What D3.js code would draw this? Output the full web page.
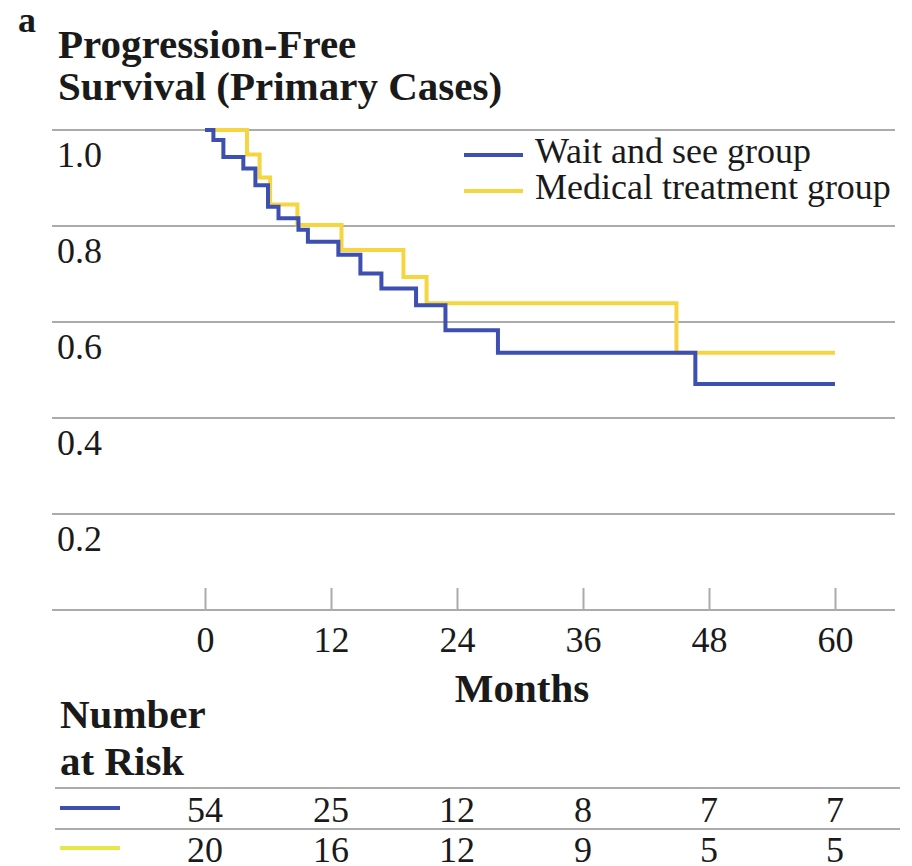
<!DOCTYPE html>
<html>
<head>
<meta charset="utf-8">
<script src="https://cdn.jsdelivr.net/npm/d3@7"></script>
<style>
  html, body { margin: 0; padding: 0; background: #fff; }
  svg { display: block; }
  text { font-family: "Liberation Serif", "DejaVu Serif", serif; fill: #1a1a1a; }
</style>
</head>
<body>
<svg id="chart" width="912" height="866"></svg>
<script>
// ---- data ----
const waitMonths   = [0, 0.8, 1.75, 3.65, 4.8, 6.0, 7.0, 8.9, 9.8, 12.7, 14.8, 16.8, 20.1, 22.9, 27.9, 46.7, 60];
const waitSurv     = [1.0, 0.979, 0.944, 0.920, 0.885, 0.840, 0.816, 0.792, 0.767, 0.740, 0.701, 0.670, 0.635, 0.583, 0.536, 0.471, 0.471];
const medMonths    = [0, 4.0, 5.2, 6.2, 8.8, 13.0, 18.9, 21.1, 44.9, 60];
const medSurv      = [1.0, 0.949, 0.901, 0.845, 0.802, 0.750, 0.694, 0.639, 0.536, 0.536];
const xTicks       = [0, 12, 24, 36, 48, 60];
const yTicks       = [0.2, 0.4, 0.6, 0.8, 1.0];
const yTickLabels  = ["0.2", "0.4", "0.6", "0.8", "1.0"];
const groupNames   = ["Wait and see group", "Medical treatment group"];
const riskWait     = [54, 25, 12, 8, 7, 7];
const riskMed      = [20, 16, 12, 9, 5, 5];

const colors = ["#3d4fb0", "#f6d640"];
const swatchColors = ["#3d4fb0", "#e6e84a"];

const svg = d3.select("#chart");
const x = d3.scaleLinear().domain([0, 60]).range([205, 835]);
const y = d3.scaleLinear().domain([0, 1]).range([610, 130]);
const gridL = 52, gridR = 895;

// title
svg.append("text").attr("x", 18).attr("y", 32).attr("font-size", 36).attr("font-weight", "bold").text("a");
svg.append("text").attr("x", 58).attr("y", 58).attr("font-size", 41).attr("font-weight", "bold").text("Progression-Free");
svg.append("text").attr("x", 58).attr("y", 100).attr("font-size", 41).attr("font-weight", "bold").text("Survival (Primary Cases)");

// gridlines (including baseline at 0)
svg.append("g").selectAll("line").data([0].concat(yTicks)).join("line")
  .attr("x1", gridL).attr("x2", gridR)
  .attr("y1", d => y(d)).attr("y2", d => y(d))
  .attr("stroke", "#ababab").attr("stroke-width", 2);

// y labels (below gridline)
svg.append("g").selectAll("text").data(yTicks).join("text")
  .attr("x", 57).attr("y", d => y(d) + 37)
  .attr("font-size", 36)
  .text((d, i) => yTickLabels[i]);

// x axis (ticks upward)
const xAxis = d3.axisBottom(x).tickValues(xTicks).tickSizeInner(-22).tickSizeOuter(0).tickPadding(16);
const gx = svg.append("g").attr("transform", "translate(0,610)").call(xAxis);
gx.select(".domain").remove();
gx.selectAll(".tick line").attr("stroke", "#ababab").attr("stroke-width", 2);
gx.selectAll(".tick text").attr("font-size", 36).attr("font-family", "Liberation Serif, serif").attr("fill", "#1a1a1a");

svg.append("text").attr("x", 522).attr("y", 702).attr("text-anchor", "middle")
  .attr("font-size", 41).attr("font-weight", "bold").text("Months");

// curves
const line = d3.line().x(d => x(d[0])).y(d => y(d[1])).curve(d3.curveStepAfter);
const medData = medMonths.map((m, i) => [m, medSurv[i]]);
const waitData = waitMonths.map((m, i) => [m, waitSurv[i]]);
svg.append("path").datum(medData).attr("d", line).attr("fill", "none")
  .attr("stroke", colors[1]).attr("stroke-width", 4);
svg.append("path").datum(waitData).attr("d", line).attr("fill", "none")
  .attr("stroke", colors[0]).attr("stroke-width", 4);

// legend
const legY = [155, 191];
groupNames.forEach((name, i) => {
  svg.append("line").attr("x1", 464).attr("x2", 523).attr("y1", legY[i]).attr("y2", legY[i])
    .attr("stroke", colors[i]).attr("stroke-width", 4);
  svg.append("text").attr("x", 535).attr("y", legY[i] + 8).attr("font-size", 36).text(name);
});

// number at risk
svg.append("text").attr("x", 60).attr("y", 728).attr("font-size", 41).attr("font-weight", "bold").text("Number");
svg.append("text").attr("x", 60).attr("y", 775).attr("font-size", 41).attr("font-weight", "bold").text("at Risk");
[788, 829].forEach(yy => {
  svg.append("line").attr("x1", 55).attr("x2", 900).attr("y1", yy).attr("y2", yy)
    .attr("stroke", "#ababab").attr("stroke-width", 2);
});
const rows = [riskWait, riskMed];
const rowBase = [822, 862];
const swY = [808, 848];
rows.forEach((row, r) => {
  svg.append("line").attr("x1", 60).attr("x2", 120).attr("y1", swY[r]).attr("y2", swY[r])
    .attr("stroke", swatchColors[r]).attr("stroke-width", 4);
  svg.append("g").selectAll("text").data(row).join("text")
    .attr("x", (d, i) => x(xTicks[i])).attr("y", rowBase[r])
    .attr("text-anchor", "middle").attr("font-size", 36)
    .text(d => d);
});
</script>
</body>
</html>
